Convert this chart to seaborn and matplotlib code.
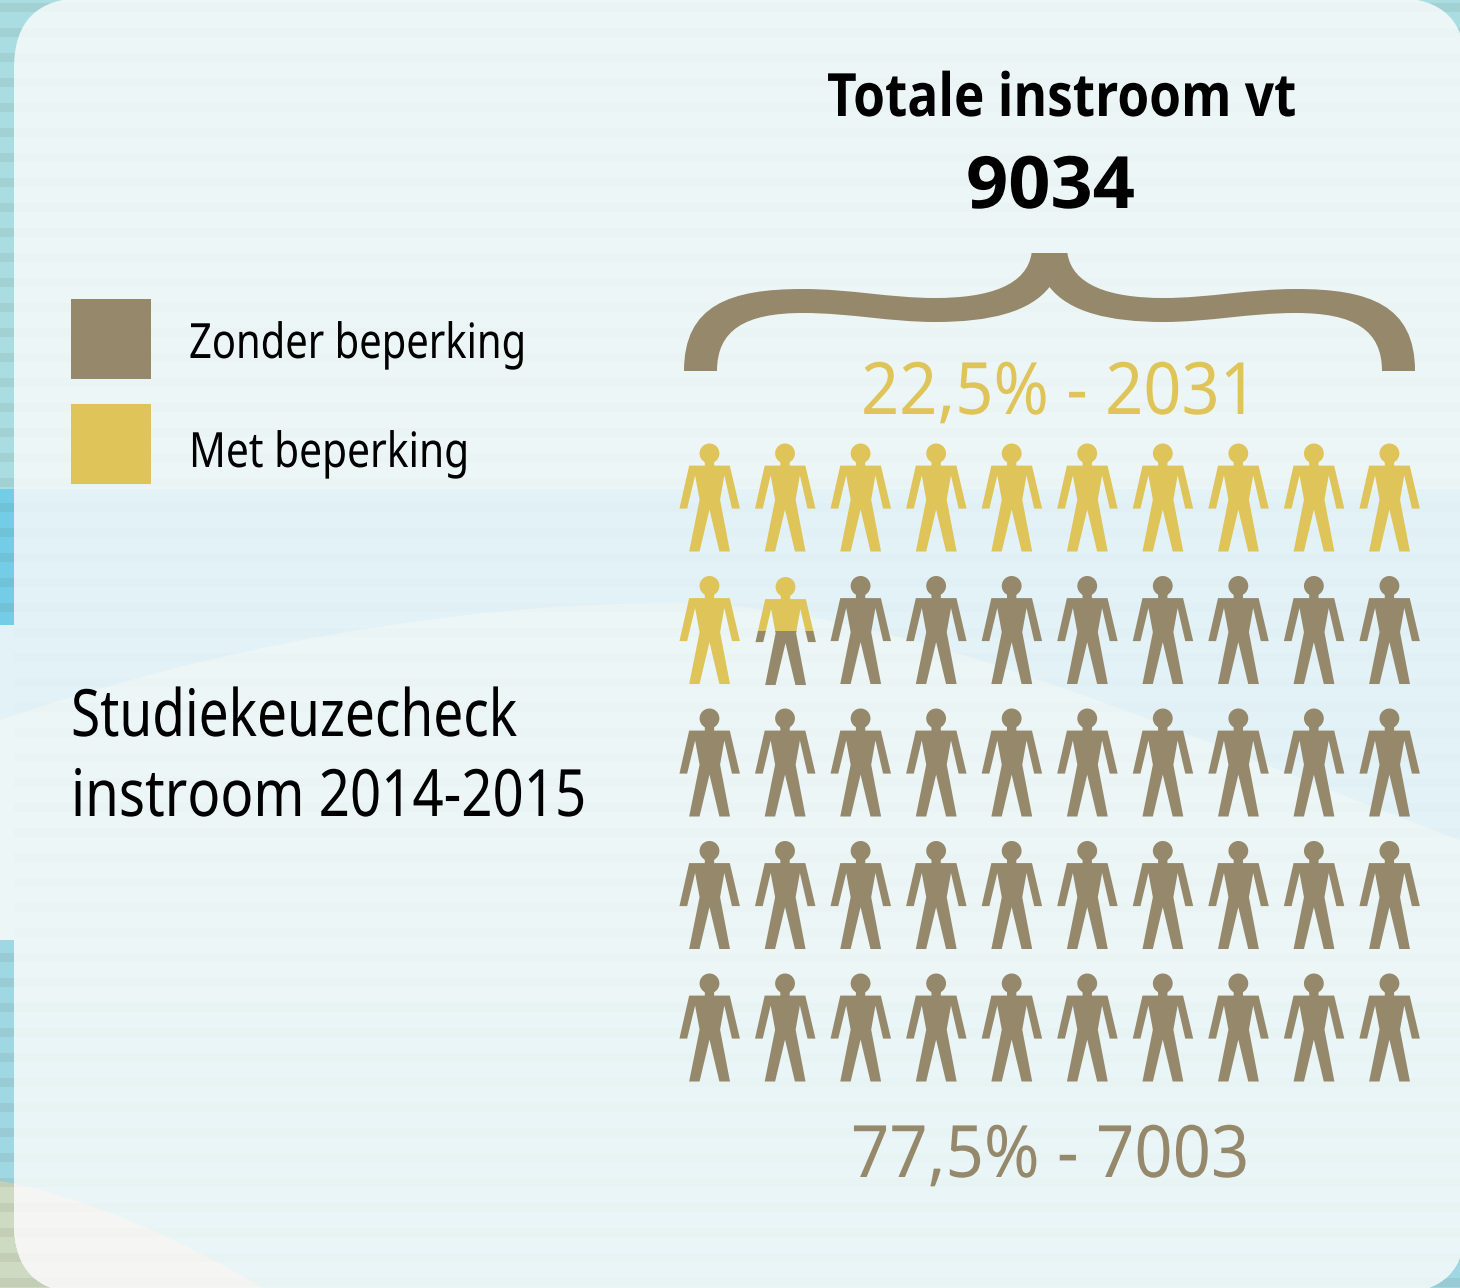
# pictogram: studiekeuzecheck instroom
import numpy as np
import pandas as pd
import matplotlib
matplotlib.use('Agg')
import matplotlib.pyplot as plt
import seaborn as sns
from matplotlib.patches import Rectangle, PathPatch, FancyBboxPatch
from matplotlib.path import Path
from matplotlib.patheffects import AbstractPathEffect
from matplotlib.transforms import Affine2D

sns.set_theme(style='white')
plt.rcParams['font.family'] = ['Noto Sans', 'DejaVu Sans']

# data
title = 'Totale instroom vt'
total = 9034
categories = ['Zonder beperking', 'Met beperking']
shares = ['77,5%', '22,5%']
counts = [7003, 2031]
# 50 poppetjes, 5 rijen van 10
figure_status = ['met'] * 11 + ['deel'] + ['zonder'] * 38
partial_fill = 0.5

TAN = '#95886b'
YELLOW = '#dfc45a'
PANEL = '#edf6f6'
BLUE_BAND = '#e2f2f7'
WAVE = '#ecf6f6'


class Squeeze(AbstractPathEffect):
    # narrows the glyphs, the installed fonts have no condensed cut
    def __init__(self, factor):
        self.factor = factor

    def draw_path(self, renderer, gc, tpath, affine, rgbFace=None):
        renderer.draw_path(gc, tpath, Affine2D().scale(self.factor, 1) + affine, rgbFace)


def fit_text(ax, s, x0, x1, base, size, color='black', weight='normal', family='Noto Sans'):
    t = ax.text(x0, base, s, ha='left', va='baseline', fontsize=size, color=color,
                fontweight=weight, family=family, zorder=3)
    w = t.get_window_extent(fig.canvas.get_renderer()).width
    t.set_path_effects([Squeeze((x1 - x0) / w)])
    return t


fig = plt.figure(figsize=(14.6, 12.88), dpi=100)
bg = fig.add_axes([0, 0, 1, 1])
bg.set_xlim(0, 1460)
bg.set_ylim(1288, 0)
bg.axis('off')

# outer strip behind the panel
bg.axhspan(0, 489, color='#a9dde2', lw=0)
bg.axhspan(489, 625, color='#73cde6', lw=0)
bg.axhspan(625, 940, color=BLUE_BAND, lw=0)
bg.axhspan(940, 1288, color='#9fd7e3', lw=0)

wave_verts = [(-5, 722), (200, 650), (450, 603), (670, 603), (900, 603), (1180, 735), (1465, 842),
              (1465, 1295), (-5, 1295), (-5, 722)]
wave_codes = [Path.MOVETO] + [Path.CURVE4] * 6 + [Path.LINETO, Path.LINETO, Path.CLOSEPOLY]
wave_path = Path(wave_verts, wave_codes)
edge_wave = PathPatch(wave_path, fc=WAVE, lw=0)
bg.add_patch(edge_wave)
edge_wave.set_clip_path(Rectangle((0, 625), 14, 315, transform=bg.transData))

wedge_verts = [(-5, 1180), (60, 1190), (160, 1225), (275, 1295), (-5, 1295), (-5, 1180)]
wedge_codes = [Path.MOVETO, Path.CURVE4, Path.CURVE4, Path.CURVE4, Path.LINETO, Path.CLOSEPOLY]
wedge = Path(wedge_verts, wedge_codes)
bg.add_patch(PathPatch(wedge, fc='#cfdac3', lw=0))
for y in range(3, 1288, 25):
    if not 625 < y < 940:
        bg.axhspan(y, y + 9, color='#5a5a3c', alpha=0.09, lw=0)

# panel with bands
panel = FancyBboxPatch((14 + 70, -2 + 70), 1452 - 140, 1295 - 140, boxstyle='round,pad=70,rounding_size=70',
                       fc=PANEL, lw=0, zorder=1)
bg.add_patch(panel)
band = bg.axhspan(489, 1288, color=BLUE_BAND, lw=0, zorder=1.1)
band.set_clip_path(panel)
wave = PathPatch(wave_path, fc=WAVE, lw=0, zorder=1.2)
bg.add_patch(wave)
wave.set_clip_path(panel)
low = bg.axhspan(1000, 1288, color='#e9f5f7', alpha=0.8, lw=0, zorder=1.25)
low.set_clip_path(panel)
light = PathPatch(wedge, fc='#f5f6f3', lw=0, zorder=1.3)
bg.add_patch(light)
light.set_clip_path(panel)
for y in range(3, 1288, 25):
    s = bg.axhspan(y, y + 9, color='#6a6a50', alpha=0.008, lw=0, zorder=1.4)
    s.set_clip_path(panel)

# legend squares
for top, col, label, x1, base in [(299, TAN, categories[0], 526, 358), (404, YELLOW, categories[1], 469, 467)]:
    bg.add_patch(Rectangle((71, top), 80, 80, fc=col, lw=0, zorder=2))
    fit_text(bg, label, 189, x1, base, 35)

# brace
cx = 1049.5
left = [(1031.6, 253), (1027, 285), (990, 298), (935, 298), (890, 298), (850, 289), (803, 289),
        (730, 289), (684, 305), (684, 371), (717, 371), (717, 330), (745, 313), (803, 313),
        (850, 313), (890, 322), (935, 322), (990, 322), (1030, 312), (cx, 287)]
left_codes = [Path.MOVETO] + [Path.CURVE4] * 9 + [Path.LINETO] + [Path.CURVE4] * 9
right = [(2 * cx - x, y) for x, y in left[::-1]][1:]
right_codes = [Path.CURVE4] * 9 + [Path.LINETO] + [Path.CURVE4] * 9
brace = Path(left + right + [left[0]], left_codes + right_codes + [Path.CLOSEPOLY])
bg.add_patch(PathPatch(brace, fc=TAN, lw=0, zorder=2))

# texts
fit_text(bg, title, 827, 1296, 116, 43, weight='bold', family='Open Sans')
fit_text(bg, str(total), 966, 1135, 208, 52, weight='bold', family='Open Sans')
fit_text(bg, f'{shares[1]} - {counts[1]}', 861, 1258, 414, 52, color=YELLOW)
fit_text(bg, f'{shares[0]} - {counts[0]}', 851, 1249, 1177, 52, color=TAN)
fit_text(bg, 'Studiekeuzecheck', 71, 517, 736, 47)
fit_text(bg, 'instroom 2014-2015', 71, 586, 816, 47)

# the little man, px around his centre, y up
body = [(-20.5, 32.7), (-30.3, -10.7), (-22.5, -10.7), (-14.5, 22.7), (-10, -1.7), (-20.5, -54), (-10, -54),
        (0, -11.7), (10, -54), (20.7, -54), (10.7, -1.7), (15, 22.7), (22.7, -10.7), (30.7, -10.7), (20.5, 32.7),
        (4.7, 32.7), (4.7, 38), (-4.7, 38), (-4.7, 32.7), (-20.5, 32.7), (-20.5, 32.7)]
body_path = Path(body, [Path.MOVETO] + [Path.LINETO] * 19 + [Path.CLOSEPOLY])
head = Path.circle((0, 45), 10)
person = Path.make_compound_path(body_path, head)
person_size = (109 * 0.72) ** 2

# grid axes, one unit is one cell
ax = fig.add_axes([671.7 / 1460, 1 - 1094.25 / 1288, 755.5 / 1460, 662.5 / 1288])
ax.set_xlim(-0.5, 9.5)
ax.set_ylim(4.5, -0.5)
ax.axis('off')
ax.patch.set_alpha(0)

df = pd.DataFrame({'status': figure_status})
df['col'] = np.arange(len(df)) % 10
df['row'] = np.arange(len(df)) // 10

full = df[df['status'] != 'deel']
sns.scatterplot(data=full, x='col', y='row', hue='status', palette={'met': YELLOW, 'zonder': TAN},
                marker=person, s=person_size, linewidth=0, legend=False, ax=ax)
ax.set_xlim(-0.5, 9.5)
ax.set_ylim(4.5, -0.5)

# half filled one
p = df[df['status'] == 'deel'].iloc[0]
split = p['row'] + (partial_fill - 0.5) * 109 / 132.5
for col, y0, y1 in [(YELLOW, p['row'] - 0.5, split), (TAN, split, p['row'] + 0.5)]:
    sc = ax.scatter([p['col']], [p['row']], marker=person, s=person_size, color=col, linewidth=0)
    sc.set_clip_path(Rectangle((p['col'] - 0.5, y0), 1, y1 - y0, transform=ax.transData))

fig.savefig('out.png', dpi=100)
